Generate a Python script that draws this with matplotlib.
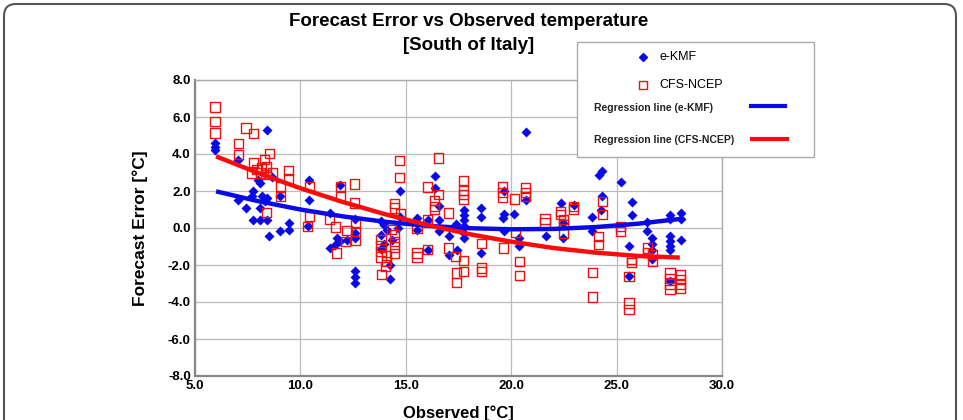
import matplotlib
matplotlib.use('Agg')
import matplotlib.pyplot as plt
import matplotlib.patches as patches
from matplotlib.lines import Line2D

plt.rcParams['font.family'] = ['Liberation Sans', 'DejaVu Sans']

# e-KMF forecast errors
kmf_x = [5.95, 5.95, 5.95, 7.06, 7.06, 7.42, 7.69, 7.77, 7.77, 8.01, 8.09, 8.09, 8.09,
         8.17, 8.33, 8.4, 8.4, 8.4, 8.53, 8.64, 9.04, 9.04, 9.48, 9.48, 10.43, 10.43,
         10.34, 11.42, 11.42, 11.65, 11.73, 11.89, 11.89, 12.21, 12.6, 12.6, 12.6, 12.6,
         12.6, 12.6, 13.82, 13.95, 14.11, 13.82, 13.95, 13.82, 14.27, 14.27, 14.34, 14.61,
         14.74, 14.74, 15.53, 15.53, 16.04, 16.04, 16.4, 16.4, 16.56, 16.56, 16.56, 17.04,
         17.04, 17.4, 17.43, 17.75, 17.75, 17.75, 17.75, 17.75, 17.75, 18.59, 18.59, 18.59,
         19.6, 19.68, 19.65, 19.65, 20.15, 20.36, 20.36, 20.68, 20.68, 21.63, 22.34, 22.47,
         22.47, 22.97, 23.84, 23.84, 24.16, 24.32, 24.32, 24.24, 25.19, 25.59, 25.59, 25.75,
         25.75, 26.46, 26.46, 26.7, 26.7, 26.7, 26.7, 27.53, 27.53, 27.53, 27.53, 27.53,
         27.53, 27.53, 28.04, 28.04, 28.04]
kmf_y = [4.6, 4.38, 4.23, 3.69, 1.5, 1.08, 1.71, 2.02, 0.41, 2.61, 2.43, 1.08, 0.41,
         1.71, 1.44, 5.32, 1.62, 0.41, -0.45, 2.76, 1.71, -0.18, 0.27, -0.09, 2.58, 1.53,
         0.09, 0.81, -1.08, -0.9, -0.54, 2.34, -0.72, -0.63, 0.49, -0.27, -0.54, -2.34,
         -2.65, -2.97, 0.36, 0.18, -0.09, -0.36, -0.85, -1.14, -1.98, -2.76, -0.67, 0.0,
         1.98, 0.59, 0.54, -0.09, 0.45, -1.17, 2.83, 2.16, 1.21, 0.41, -0.18, -0.45,
         -1.44, 0.23, -1.17, 0.99, 0.72, 0.45, 0.13, -0.27, -0.54, 1.08, 0.59, -1.35,
         0.54, 0.77, 1.98, -0.18, 0.77, -0.54, -0.99, 5.17, 1.53, -0.45, 1.35, 0.27,
         -0.54, 1.26, 0.58, -0.14, 2.88, 3.06, 1.71, 0.99, 2.47, -0.95, -2.61, 1.39,
         0.72, 0.31, -0.18, -0.54, -0.85, -1.17, -1.68, 0.72, 0.49, -0.45, -0.72, -0.95,
         -1.2, -2.88, 0.81, 0.49, -0.63]

# CFS-NCEP forecast errors
cfs_x = [5.95, 5.95, 5.95, 7.06, 7.06, 7.42, 7.77, 7.77, 7.69, 7.93, 8.09, 8.17, 8.28,
         8.4, 8.4, 8.37, 8.53, 8.69, 9.04, 9.04, 9.43, 9.43, 10.43, 10.43, 10.34, 11.38,
         11.65, 11.7, 11.89, 11.89, 12.13, 12.21, 12.57, 12.57, 12.6, 12.6, 12.6, 13.82,
         13.82, 13.82, 13.82, 13.84, 14.08, 14.08, 14.05, 14.31, 14.46, 14.46, 14.46,
         14.46, 14.46, 14.46, 14.71, 14.71, 14.74, 15.53, 15.53, 15.53, 16.04, 16.04,
         16.04, 16.36, 16.36, 16.36, 16.56, 16.56, 17.04, 17.04, 17.35, 17.4, 17.4, 17.75,
         17.75, 17.75, 17.75, 17.75, 17.75, 18.59, 18.59, 18.59, 19.6, 19.6, 19.6, 19.65,
         20.15, 20.2, 20.41, 20.41, 20.68, 20.68, 20.68, 21.6, 21.6, 22.34, 22.34, 22.47,
         22.47, 22.47, 22.97, 22.97, 23.84, 23.84, 24.16, 24.16, 24.32, 24.32, 25.19,
         25.19, 25.59, 25.59, 25.59, 25.7, 25.7, 26.46, 26.46, 26.7, 26.7, 27.53, 27.53,
         27.53, 27.53, 28.04, 28.04, 28.04, 28.04]
cfs_y = [6.54, 5.77, 5.14, 4.56, 3.96, 5.41, 5.10, 3.55, 2.97, 3.15, 2.97, 3.24, 3.69,
         3.3, 0.85, 2.88, 4.02, 2.97, 2.25, 1.71, 3.12, 2.65, 2.25, 0.63, 0.09, 0.45,
         0.05, -1.35, 2.25, 1.71, -0.72, -0.13, 2.38, 1.35, 0.23, -0.18, -0.67, -0.63,
         -0.95, -1.26, -1.57, -2.52, -1.5, -1.8, -2.07, -0.09, 1.32, 1.08, -0.36, -0.72,
         -1.03, -1.39, 3.66, 2.74, 0.77, 0.0, -1.35, -1.57, 2.22, 0.45, -1.17, 1.5, 1.17,
         0.99, 3.78, 1.8, 0.81, -1.08, -1.53, -2.43, -2.94, 2.58, 2.02, 1.8, 1.53, -1.75,
         -2.34, -0.85, -2.16, -2.34, 2.22, 1.93, 1.68, -1.08, 1.57, -0.23, -1.8, -2.58,
         2.16, 1.93, 1.71, 0.49, 0.27, 0.9, 0.72, 0.45, 0.18, -0.27, 1.17, 1.03, -2.4,
         -3.73, -0.45, -0.9, 1.44, 0.72, 0.09, -0.18, -2.61, -4.05, -4.41, -1.71, -1.86,
         -1.08, -1.32, -1.44, -1.8, -2.43, -2.73, -3.03, -3.33, -2.52, -2.79, -3.06, -3.24]

# regression curves
reg_x = [6, 8, 10, 12, 14, 16, 18, 20, 22, 24, 26, 28]
reg_kmf = [1.98, 1.45, 1.0, 0.63, 0.34, 0.12, -0.01, -0.07, -0.05, 0.05, 0.23, 0.49]
reg_cfs = [3.87, 2.97, 2.15, 1.41, 0.75, 0.17, -0.33, -0.74, -1.08, -1.33, -1.51, -1.6]

x_ticks = [5, 10, 15, 20, 25, 30]
y_ticks = [-8, -6, -4, -2, 0, 2, 4, 6, 8]

fig = plt.figure(figsize=(9.63, 4.2), dpi=100)

# outer rounded frame
frame = patches.FancyBboxPatch((0.04, -0.3), 9.52, 4.46,
                               boxstyle='round,pad=0,rounding_size=0.12',
                               transform=fig.dpi_scale_trans,
                               edgecolor='#555555', facecolor='none', lw=1.5)
fig.add_artist(frame)

ax = fig.add_axes([195 / 963, 1 - 376 / 420, 527 / 963, 296 / 420])
ax.set_xlim(5, 30)
ax.set_ylim(-8, 8)
ax.set_xticks(x_ticks)
ax.set_yticks(y_ticks)
ax.set_xticklabels(['%.1f' % v for v in x_ticks], fontsize=9.5, fontweight='bold')
ax.set_yticklabels(['%.1f' % v for v in y_ticks], fontsize=9.5, fontweight='bold')
ax.tick_params(length=0, pad=3)
ax.grid(True, color='#bbbbbb', lw=0.9)
ax.set_axisbelow(True)
for side in ['left', 'bottom']:
    ax.spines[side].set_color('#888888')
    ax.spines[side].set_linewidth(1.6)
for side in ['top', 'right']:
    ax.spines[side].set_color('#aaaaaa')
    ax.spines[side].set_linewidth(1.0)

ax.scatter(kmf_x, kmf_y, marker='D', s=26, color='#0a0ae6', lw=0, zorder=3)
ax.scatter(cfs_x, cfs_y, marker='s', s=44, facecolor='none', edgecolor='#f01010',
           lw=1.0, zorder=3)
ax.plot(reg_x, reg_kmf, color='#0a0ae6', lw=3.2, solid_capstyle='butt', zorder=4)
ax.plot(reg_x, reg_cfs, color='#ff0a0a', lw=3.2, solid_capstyle='butt', zorder=4)

ax.set_ylabel('Forecast Error [°C]', fontsize=12.5, fontweight='bold')
ax.yaxis.set_label_coords(-0.09, 0.5)
ax.set_xlabel('Observed [°C]', fontsize=12, fontweight='bold')
ax.xaxis.set_label_coords(0.5, -0.1)

fig.text(469 / 963, 1 - 21 / 420, 'Forecast Error vs Observed temperature',
         ha='center', va='center', fontsize=13.5, fontweight='bold')
fig.text(469 / 963, 1 - 45 / 420, '[South of Italy]',
         ha='center', va='center', fontsize=13.5, fontweight='bold')

# legend box drawn by hand
W, H = 963.0, 420.0
box = patches.Rectangle((577 / W, 1 - 157 / H), 237 / W, 115 / H,
                        transform=fig.transFigure, facecolor='white',
                        edgecolor='#aaaaaa', lw=1.0, zorder=10)
fig.add_artist(box)
fig.add_artist(Line2D([643 / W], [1 - 57 / H], transform=fig.transFigure, marker='D',
                      markersize=4, color='#0a0ae6', lw=0, zorder=11))
fig.add_artist(Line2D([643 / W], [1 - 85 / H], transform=fig.transFigure, marker='s',
                      markersize=5.5, markerfacecolor='none', markeredgecolor='#f01010',
                      lw=0, zorder=11))
fig.text(659 / W, 1 - 57 / H, 'e-KMF', fontsize=9, va='center', zorder=11)
fig.text(659 / W, 1 - 85 / H, 'CFS-NCEP', fontsize=9, va='center', zorder=11)
fig.text(594 / W, 1 - 108 / H, 'Regression line (e-KMF)', fontsize=7.5,
         fontweight='bold', va='center', color='#222222', zorder=11)
fig.text(594 / W, 1 - 140 / H, 'Regression line (CFS-NCEP)', fontsize=7.5,
         fontweight='bold', va='center', color='#222222', zorder=11)
fig.add_artist(Line2D([751 / W, 785 / W], [1 - 106 / H, 1 - 106 / H],
                      transform=fig.transFigure, color='#0a0ae6', lw=3, zorder=11))
fig.add_artist(Line2D([752 / W, 787 / W], [1 - 139 / H, 1 - 139 / H],
                      transform=fig.transFigure, color='#ff0a0a', lw=3, zorder=11))

plt.savefig('out.png', dpi=100)
